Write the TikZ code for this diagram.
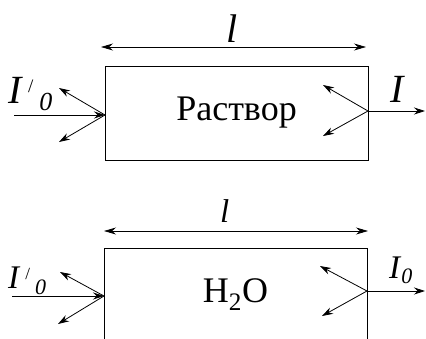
\documentclass[tikz,border=0pt]{standalone}
\usepackage{fontspec}
\setmainfont{Liberation Serif}
\usetikzlibrary{arrows.meta}
\newcommand{\fs}[1]{\fontsize{#1}{#1}\selectfont}

\begin{document}
\begin{tikzpicture}[x=1pt, y=-1pt,
    box/.style={draw, line width=0.9pt, inner sep=0pt,
                minimum width=263pt, minimum height=94pt, font=\fs{36}},
    ray/.style={-{Stealth[length=11pt, width=7pt]}, line width=0.8pt},
    dim/.style={{Stealth[length=12pt, width=7pt]}-{Stealth[length=12pt, width=7pt]},
                line width=0.8pt},
    lbl/.style={inner sep=0pt, anchor=base west}
  ]
  \useasboundingbox (0,0) rectangle (426,338);
  \clip (0,0) rectangle (426,338);

  % solution
  \node[box] (sol) at (236.5,113) {Раствор};
  \coordinate (solSrc) at (14,115);
  \coordinate (solIn)  at (105,115);
  \coordinate (solRa)  at (59,88);
  \coordinate (solRb)  at (59,142);
  \coordinate (solOut) at (368,111);
  \coordinate (solEnd) at (425,111);
  \coordinate (solBa)  at (323,85);
  \coordinate (solBb)  at (323,136);
  \coordinate (solL)   at (101,47);
  \coordinate (solR)   at (366,47);
  \node[lbl] (solLen) at (226,42)  {\fs{40}\textit{l}};
  \node[lbl] (solI0)  at (8,103)
    {\fs{40}\textit{I}\hspace{5pt}\raisebox{11pt}{\fs{19}/}\hspace{6pt}\raisebox{-7pt}{\fs{26}\textit{0}}};
  \node[lbl] (solI)   at (390,102) {\fs{40}\textit{I}};

  \draw[ray] (solSrc) -- (solIn);
  \draw[ray] (solIn)  -- (solRa);
  \draw[ray] (solIn)  -- (solRb);
  \draw[ray] (solOut) -- (solEnd);
  \draw[ray] (solOut) -- (solBa);
  \draw[ray] (solOut) -- (solBb);
  \draw[dim] (solL) -- (solR);

  % water
  \node[box] (wat) at (235.5,295) {H\textsubscript{2}O};
  \coordinate (watSrc) at (12,296);
  \coordinate (watIn)  at (104,296);
  \coordinate (watRa)  at (60,272);
  \coordinate (watRb)  at (58,324);
  \coordinate (watOut) at (367,291);
  \coordinate (watEnd) at (425,291);
  \coordinate (watBa)  at (320,266);
  \coordinate (watBb)  at (322,316);
  \coordinate (watL)   at (104,231);
  \coordinate (watR)   at (368,231);
  \node[lbl] (watLen) at (220,222) {\fs{33}\textit{l}};
  \node[lbl] (watI0)  at (8,288)
    {\fs{33}\textit{I}\hspace{5pt}\raisebox{9pt}{\fs{17}/}\hspace{5pt}\raisebox{-6pt}{\fs{22}\textit{0}}};
  \node[lbl] (watI)   at (389,278)
    {\fs{33}\textit{I}\raisebox{-5pt}{\fs{22}\textit{0}}};

  \draw[ray] (watSrc) -- (watIn);
  \draw[ray] (watIn)  -- (watRa);
  \draw[ray] (watIn)  -- (watRb);
  \draw[ray] (watOut) -- (watEnd);
  \draw[ray] (watOut) -- (watBa);
  \draw[ray] (watOut) -- (watBb);
  \draw[dim] (watL) -- (watR);
\end{tikzpicture}
\end{document}
